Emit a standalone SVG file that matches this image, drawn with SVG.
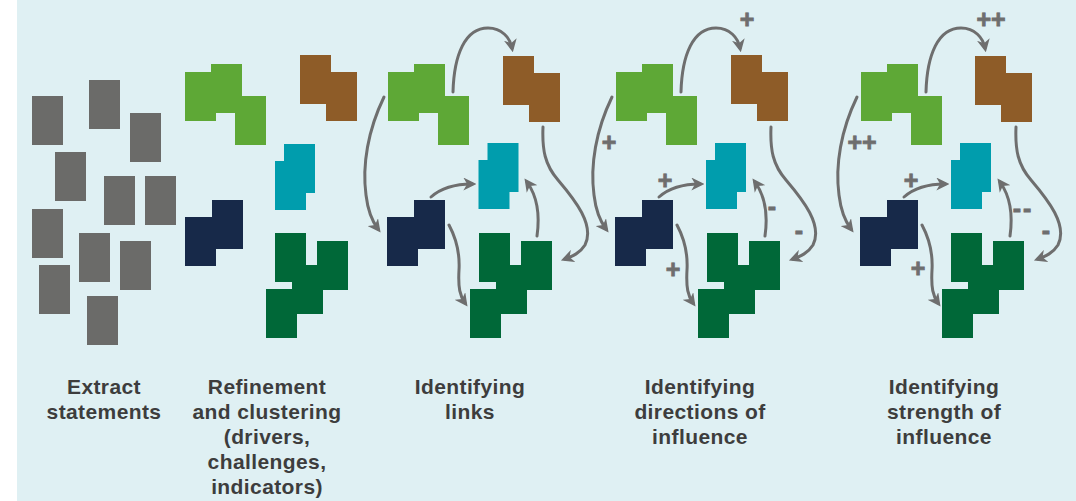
<svg xmlns="http://www.w3.org/2000/svg" width="1076" height="501" viewBox="0 0 1076 501">
<defs>
<style>
.bg{fill:#dff0f3}
.st{fill:#6b6b69}
.lg{fill:#5ea836}
.br{fill:#8e5c28}
.te{fill:#009dad}
.nv{fill:#172949}
.dg{fill:#006838}
.ar{fill:none;stroke:#6e6e6e;stroke-width:3;stroke-linecap:round;marker-end:url(#ah)}
.lbl{font-family:"Liberation Sans",Arial,sans-serif;font-weight:bold;font-size:21px;letter-spacing:0.4px;fill:#3d3d3d;text-anchor:middle}
.sg{font-family:"Liberation Sans",Arial,sans-serif;font-weight:bold;font-size:25px;fill:#6e6e6e;stroke:#6e6e6e;stroke-width:0.8;text-anchor:middle}
</style>
<marker id="ah" markerUnits="userSpaceOnUse" viewBox="0 0 12 12" markerWidth="13" markerHeight="13" refX="8" refY="6" orient="auto">
<path d="M0,0 L12,6 L0,12 L3.5,6 z" fill="#6e6e6e"/>
</marker>
<path id="shLG" d="M185,72 H211 V64 H242 V96 H266 V145 H235 V113 H216 V121 H185 Z"/>
<path id="shBR" d="M300,55 H331 V72 H357 V121 H326 V104 H300 Z"/>
<path id="shTE" d="M284,144 H315 V193 H306 V210 H275 V161 H284 Z"/>
<path id="shNV" d="M212,200 H243 V249 H216 V266 H185 V217 H212 Z"/>
<path id="shDG" d="M275,233 H306 V265 H317 V241 H348 V290 H323 V314 H297 V338 H266 V289 H292 V282 H275 Z"/>
</defs>
<rect class="bg" x="17" y="0" width="1059" height="501"/>

<g id="statements">
<rect class="st" x="32" y="96" width="31" height="49"/>
<rect class="st" x="89" y="80" width="31" height="49"/>
<rect class="st" x="130" y="113" width="31" height="49"/>
<rect class="st" x="55" y="152" width="31" height="49"/>
<rect class="st" x="104" y="176" width="31" height="49"/>
<rect class="st" x="145" y="176" width="31" height="49"/>
<rect class="st" x="32" y="209" width="31" height="49"/>
<rect class="st" x="79" y="233" width="31" height="49"/>
<rect class="st" x="120" y="241" width="31" height="49"/>
<rect class="st" x="39" y="265" width="31" height="49"/>
<rect class="st" x="87" y="296" width="31" height="49"/>
</g>

<g id="p2-green"><use href="#shLG" class="lg"/></g>
<g id="p2-brown"><use href="#shBR" class="br"/></g>
<g id="p2-teal"><use href="#shTE" class="te"/></g>
<g id="p2-navy"><use href="#shNV" class="nv"/></g>
<g id="p2-darkgreen"><use href="#shDG" class="dg"/></g>

<g id="p3-green"><use href="#shLG" class="lg" x="203"/></g>
<g id="p3-brown"><use href="#shBR" class="br" x="203" y="1"/></g>
<g id="p3-teal"><use href="#shTE" class="te" x="203.5" y="-1"/></g>
<g id="p3-navy"><use href="#shNV" class="nv" x="202"/></g>
<g id="p3-darkgreen"><use href="#shDG" class="dg" x="204"/></g>

<g id="p4-green"><use href="#shLG" class="lg" x="431"/></g>
<g id="p4-brown"><use href="#shBR" class="br" x="431"/></g>
<g id="p4-teal"><use href="#shTE" class="te" x="431" y="-1"/></g>
<g id="p4-navy"><use href="#shNV" class="nv" x="430"/></g>
<g id="p4-darkgreen"><use href="#shDG" class="dg" x="432"/></g>

<g id="p5-green"><use href="#shLG" class="lg" x="676"/></g>
<g id="p5-brown"><use href="#shBR" class="br" x="675" y="1"/></g>
<g id="p5-teal"><use href="#shTE" class="te" x="676" y="-1"/></g>
<g id="p5-navy"><use href="#shNV" class="nv" x="675"/></g>
<g id="p5-darkgreen"><use href="#shDG" class="dg" x="676"/></g>

<g id="connectors">
<g id="p3-links">
<path class="ar" d="M453,92 C454,55 465,28 488,28 C502,28 510,38 512,48"/>
<path class="ar" d="M384,97 C368,130 362,165 366,195 C368,212 372,221 378,229"/>
<path class="ar" d="M543,127 C542,150 545,165 558,180 C575,200 595,225 585,245 C580,253 573,256 565,259"/>
<path class="ar" d="M431,197 C440,189 452,184 472,184"/>
<path class="ar" d="M537,236 C540,215 537,196 527,182"/>
<path class="ar" d="M449,225 C457,240 460,253 459,270 C458,288 460,296 465,303"/>
</g>
<g id="p4-links" transform="translate(228,0)">
<path class="ar" d="M453,92 C454,55 465,28 488,28 C502,28 510,38 512,48"/>
<path class="ar" d="M384,97 C368,130 362,165 366,195 C368,212 372,221 378,229"/>
<path class="ar" d="M543,127 C542,150 545,165 558,180 C575,200 595,225 585,245 C580,253 573,256 565,259"/>
<path class="ar" d="M431,197 C440,189 452,184 472,184"/>
<path class="ar" d="M537,236 C540,215 537,196 527,182"/>
<path class="ar" d="M449,225 C457,240 460,253 459,270 C458,288 460,296 465,303"/>
</g>
<g id="p5-links" transform="translate(473,0)">
<path class="ar" d="M453,92 C454,55 465,28 488,28 C502,28 510,38 512,48"/>
<path class="ar" d="M384,97 C368,130 362,165 366,195 C368,212 372,221 378,229"/>
<path class="ar" d="M543,127 C542,150 545,165 558,180 C575,200 595,225 585,245 C580,253 573,256 565,259"/>
<path class="ar" d="M431,197 C440,189 452,184 472,184"/>
<path class="ar" d="M537,236 C540,215 537,196 527,182"/>
<path class="ar" d="M449,225 C457,240 460,253 459,270 C458,288 460,296 465,303"/>
</g>
</g>

<g id="p4-signs">
<text class="sg" x="747" y="28">+</text>
<text class="sg" x="609" y="151">+</text>
<text class="sg" x="665" y="189">+</text>
<text class="sg" x="772" y="215">-</text>
<text class="sg" x="799" y="239">-</text>
<text class="sg" x="673" y="278">+</text>
</g>
<g id="p5-signs">
<text class="sg" x="991" y="28">++</text>
<text class="sg" x="862" y="151">++</text>
<text class="sg" x="911" y="189">+</text>
<text class="sg" x="1023" y="217" letter-spacing="2">--</text>
<text class="sg" x="1046" y="239">-</text>
<text class="sg" x="918" y="277">+</text>
</g>

<g id="label-1">
<text class="lbl" x="104" y="394">Extract</text>
<text class="lbl" x="104" y="419">statements</text>
</g>
<g id="label-2">
<text class="lbl" x="267" y="394">Refinement</text>
<text class="lbl" x="267" y="419">and clustering</text>
<text class="lbl" x="267" y="444">(drivers,</text>
<text class="lbl" x="267" y="469">challenges,</text>
<text class="lbl" x="267" y="494">indicators)</text>
</g>
<g id="label-3">
<text class="lbl" x="470" y="394">Identifying</text>
<text class="lbl" x="470" y="419">links</text>
</g>
<g id="label-4">
<text class="lbl" x="700" y="394">Identifying</text>
<text class="lbl" x="700" y="419">directions of</text>
<text class="lbl" x="700" y="444">influence</text>
</g>
<g id="label-5">
<text class="lbl" x="944" y="394">Identifying</text>
<text class="lbl" x="944" y="419">strength of</text>
<text class="lbl" x="944" y="444">influence</text>
</g>
</svg>
